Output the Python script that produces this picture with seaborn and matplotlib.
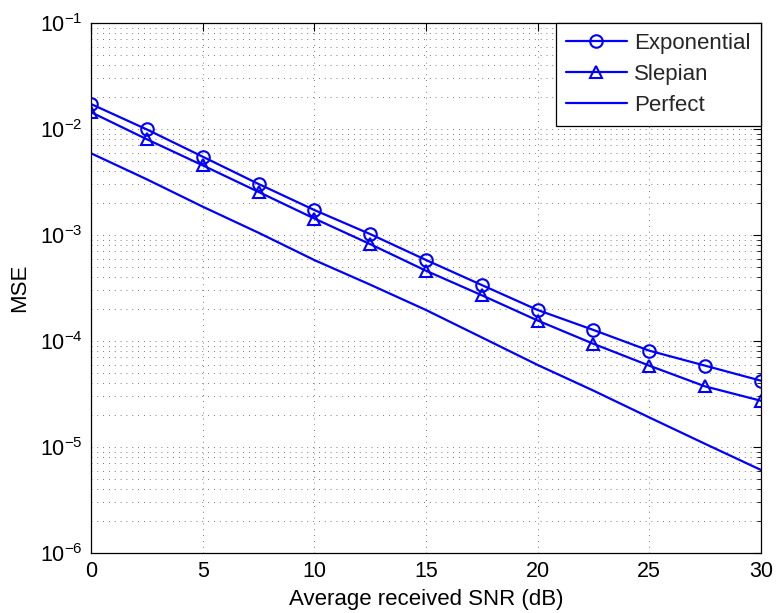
import matplotlib
matplotlib.use("Agg")
import matplotlib.pyplot as plt
import matplotlib.ticker as mticker
import pandas as pd
import seaborn as sns

snr_db = [0, 2.5, 5, 7.5, 10, 12.5, 15, 17.5, 20, 22.5, 25, 27.5, 30]
mse_exponential = [1.72e-2, 9.9e-3, 5.48e-3, 3.03e-3, 1.72e-3, 1.02e-3, 5.81e-4,
                   3.37e-4, 1.96e-4, 1.27e-4, 8.1e-5, 5.85e-5, 4.22e-5]
mse_slepian = [1.44e-2, 8.0e-3, 4.54e-3, 2.55e-3, 1.43e-3, 8.2e-4, 4.6e-4,
               2.70e-4, 1.56e-4, 9.4e-5, 5.85e-5, 3.73e-5, 2.73e-5]
mse_perfect = [5.9e-3, 3.35e-3, 1.85e-3, 1.05e-3, 5.8e-4, 3.4e-4, 1.96e-4,
               1.08e-4, 5.94e-5, 3.4e-5, 1.9e-5, 1.07e-5, 6.07e-6]
series_names = ["Exponential", "Slepian", "Perfect"]

x_ticks = [0, 5, 10, 15, 20, 25, 30]


def build_frame() -> pd.DataFrame:
    parts = []
    for name, vals in zip(series_names, [mse_exponential, mse_slepian, mse_perfect]):
        parts.append(pd.DataFrame({"snr": snr_db, "mse": vals, "scheme": name}))
    return pd.concat(parts, ignore_index=True)


def main() -> None:
    sns.set_theme(style="white")
    plt.rcParams["font.family"] = ["Liberation Sans", "DejaVu Sans"]
    plt.rcParams["mathtext.default"] = "regular"

    df = build_frame()
    fig = plt.figure(figsize=(7.8, 6.13), dpi=100)
    ax = fig.add_axes([0.1167, 0.0979, 0.8589, 0.8646])

    markers = {"Exponential": "o", "Slepian": "^", "Perfect": None}
    for name in series_names:
        sub = df[df["scheme"] == name]
        kw = {}
        if markers[name] is not None:
            kw = dict(marker=markers[name], markersize=9, markerfacecolor="none",
                      markeredgecolor="blue", markeredgewidth=1.5)
        sns.lineplot(data=sub, x="snr", y="mse", ax=ax, color="blue", linewidth=1.6,
                     label=name, **kw)

    ax.set_yscale("log")
    ax.set_xlim(0, 30)
    ax.set_ylim(1e-6, 1e-1)
    ax.set_xticks(x_ticks)
    ax.yaxis.set_major_locator(mticker.LogLocator(base=10, numticks=10))
    ax.yaxis.set_minor_locator(mticker.LogLocator(base=10, subs=range(2, 10), numticks=10))
    ax.yaxis.set_minor_formatter(mticker.NullFormatter())

    grid_kw = dict(color="0.3", linewidth=0.6, linestyle=(0, (1, 6)))
    ax.grid(True, which="major", axis="both", **grid_kw)
    ax.grid(True, which="minor", axis="y", **grid_kw)

    for sp in ax.spines.values():
        sp.set_color("black")
        sp.set_linewidth(0.9)
    ax.tick_params(which="both", direction="in", top=True, right=True, colors="black",
                   labelsize=15.5, labelcolor="black")
    ax.tick_params(which="major", length=6, width=0.8, pad=6)
    ax.tick_params(which="minor", length=3, width=0.6)

    ax.set_xlabel("Average received SNR (dB)", fontsize=16, color="black", labelpad=5)
    ax.set_ylabel("MSE", fontsize=16, color="black", labelpad=7)

    leg = ax.legend(loc="upper right", borderaxespad=0, fontsize=16, frameon=True,
                    fancybox=False, edgecolor="black", handlelength=2.75,
                    handletextpad=0.35, labelspacing=0.45, borderpad=0.45)
    leg.get_frame().set_linewidth(0.9)
    leg.get_frame().set_alpha(1)

    fig.savefig("out.png", dpi=100)
    plt.close(fig)


if __name__ == "__main__":
    main()
